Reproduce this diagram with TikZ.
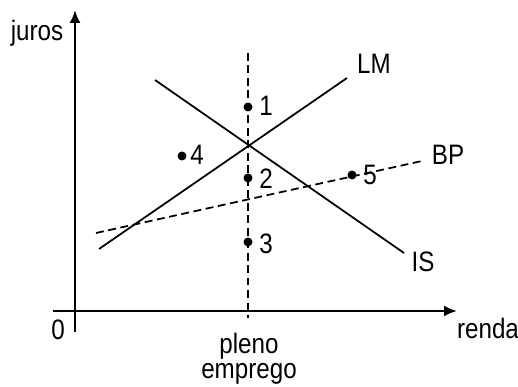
\documentclass[tikz,border=0pt]{standalone}
\usepackage{fontspec}
\setmainfont[FakeStretch=0.86]{Liberation Sans}
\usetikzlibrary{arrows.meta}

\begin{document}
\begin{tikzpicture}[font=\fontsize{16}{18}\selectfont]

    \tikzset{
      ponto/.style={
        circle,
        fill=black,
        inner sep=0pt,
        minimum size=0.18cm,
      },
      rotulo/.style={
        inner sep=0pt,
        anchor=center,
      },
      curva/.style={
        line width=1pt,
      },
      tracejado/.style={
        line width=1pt,
        dash pattern=on 4.5pt off 2.6pt,
      },
    }

	\useasboundingbox (-1.5,-1.52) rectangle (8.86,6.22);

	% eixos
	\coordinate (xini) at (-0.44,0);
	\coordinate (xfim) at (7.64,0);
	\coordinate (yini) at (0,-0.42);
	\coordinate (yfim) at (0,6.02);
	\draw[color ={black},line width = 1.2pt,>={Latex[length=0.26cm,width=0.22cm]},->] (xini)--(xfim);
	\draw[color ={black},line width = 1.2pt,>={Latex[length=0.26cm,width=0.22cm]},->] (yini)--(yfim);
	\node[rotulo] (zero) at (-0.34,-0.38) {0};
	\node[rotulo] (juros) at (-0.76,5.56) {juros};
	\node[rotulo] (renda) at (8.26,-0.34) {renda};
	\node[rotulo] (pleno) at (3.48,-0.70) {pleno};
	\node[rotulo] (emprego) at (3.48,-1.26) {emprego};

	% pleno emprego
	\coordinate (pe1) at (3.46,5.16);
	\coordinate (pe2) at (3.46,-0.14);
	\draw[tracejado] (pe1)--(pe2);

	% IS, LM e BP
	\coordinate (is1) at (1.6,4.62);
	\coordinate (is2) at (6.58,1.16);
	\coordinate (lm1) at (0.48,1.24);
	\coordinate (lm2) at (5.44,4.66);
	\coordinate (bp1) at (0.42,1.56);
	\coordinate (bp2) at (6.94,3.0);
	\draw[curva] (is1)--(is2);
	\draw[curva] (lm1)--(lm2);
	\draw[tracejado] (bp1)--(bp2);
	\node[rotulo] (IS) at (6.96,0.98) {IS};
	\node[rotulo] (LM) at (5.98,4.94) {LM};
	\node[rotulo] (BP) at (7.46,3.12) {BP};

	% pontos
	\node[ponto] (p1) at (3.46,4.08) {};
	\node[ponto] (p2) at (3.46,2.66) {};
	\node[ponto] (p3) at (3.46,1.38) {};
	\node[ponto] (p4) at (2.14,3.10) {};
	\node[ponto] (p5) at (5.54,2.72) {};
	\node[rotulo] (n1) at (3.82,4.10) {1};
	\node[rotulo] (n2) at (3.82,2.64) {2};
	\node[rotulo] (n3) at (3.82,1.34) {3};
	\node[rotulo] (n4) at (2.44,3.12) {4};
	\node[rotulo] (n5) at (5.90,2.72) {5};

\end{tikzpicture}
\end{document}
